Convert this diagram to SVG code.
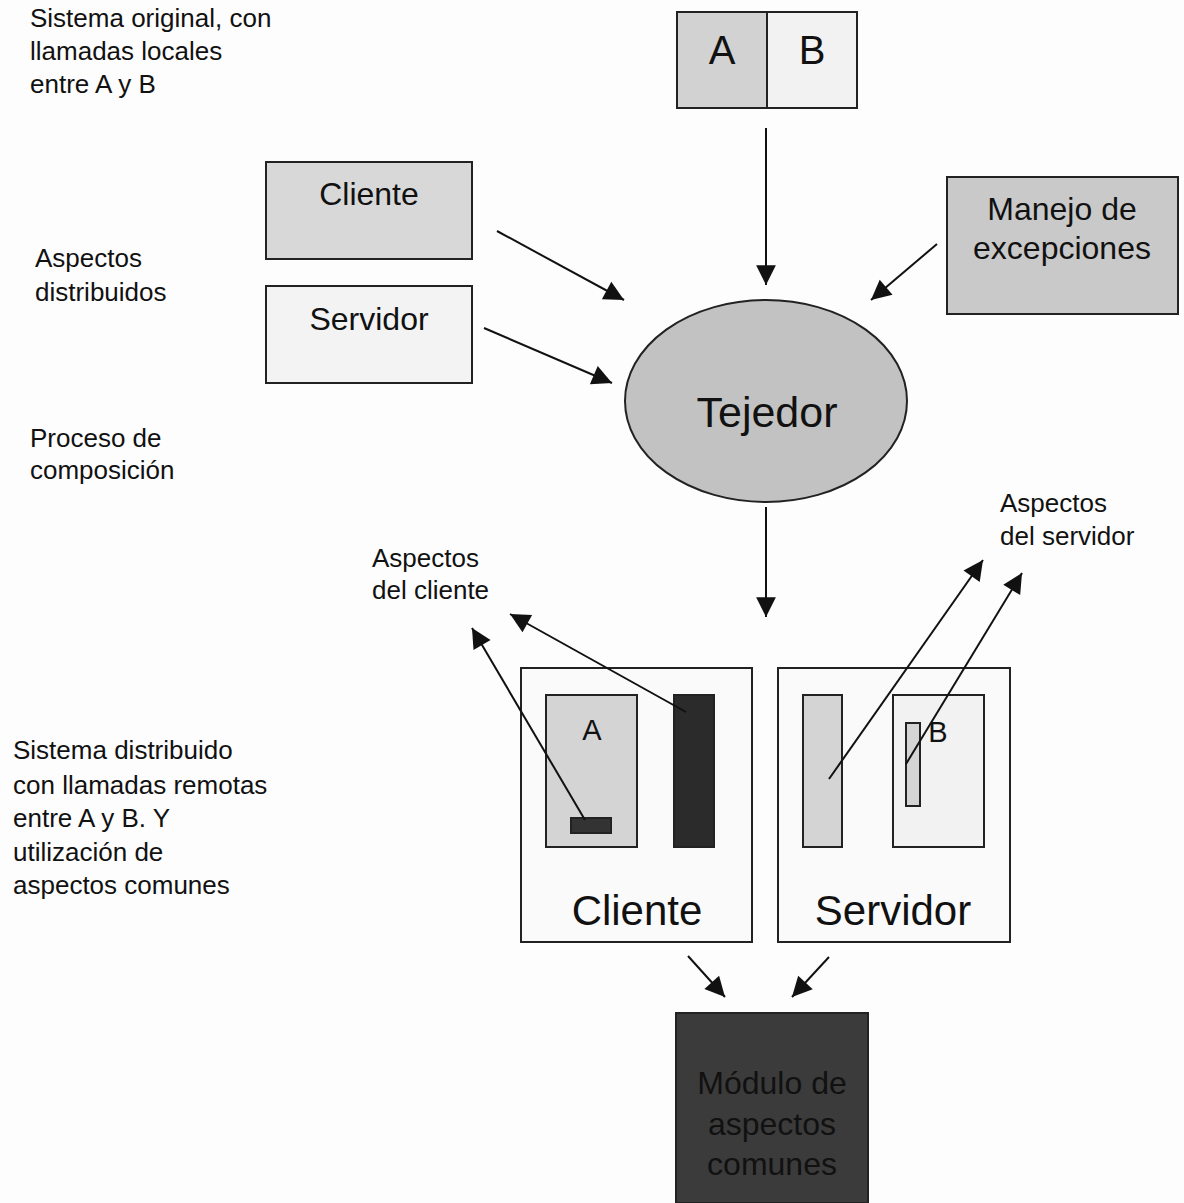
<svg xmlns="http://www.w3.org/2000/svg" width="1184" height="1203" viewBox="0 0 1184 1203">
  <style>
    .box { stroke: #222; stroke-width: 2; }
    .lbl { font-family: "Liberation Sans", Arial, sans-serif; font-size: 26px; fill: #111; }
    .big { font-family: "Liberation Sans", Arial, sans-serif; fill: #111; text-anchor: middle; }
    .conn { stroke: #111; stroke-width: 2; fill: none; marker-end: url(#arrow); }
  </style>
  <defs>
    <marker id="arrow" viewBox="0 0 10 10" refX="10" refY="5" markerWidth="10" markerHeight="9" markerUnits="userSpaceOnUse" orient="auto" style="overflow:visible">
      <path d="M0,0 L10,5 L0,10 z" fill="#111" transform="scale(2.2)" transform-origin="10 5"/>
    </marker>
  </defs>
  <rect width="1184" height="1203" fill="#fdfdfd"/>

  <!-- side labels -->
  <g id="labels">
    <text class="lbl" x="30" y="27">Sistema original, con</text>
    <text class="lbl" x="30" y="60">llamadas locales</text>
    <text class="lbl" x="30" y="93">entre A y B</text>
    <text class="lbl" x="35" y="267">Aspectos</text>
    <text class="lbl" x="35" y="301">distribuidos</text>
    <text class="lbl" x="30" y="447">Proceso de</text>
    <text class="lbl" x="30" y="479">composición</text>
    <text class="lbl" x="13" y="759">Sistema distribuido</text>
    <text class="lbl" x="13" y="794">con llamadas remotas</text>
    <text class="lbl" x="13" y="827">entre A y B. Y</text>
    <text class="lbl" x="13" y="861">utilización de</text>
    <text class="lbl" x="13" y="894">aspectos comunes</text>
    <text class="lbl" x="372" y="567">Aspectos</text>
    <text class="lbl" x="372" y="599">del cliente</text>
    <text class="lbl" x="1000" y="512">Aspectos</text>
    <text class="lbl" x="1000" y="545">del servidor</text>
  </g>

  <!-- original system A|B -->
  <g id="original">
    <rect class="box" x="677" y="12" width="90" height="96" fill="#d2d2d2"/>
    <rect class="box" x="767" y="12" width="90" height="96" fill="#f2f2f2"/>
    <text class="big" x="722" y="64" font-size="40">A</text>
    <text class="big" x="812" y="64" font-size="40">B</text>
  </g>

  <g id="aspecto-cliente">
    <rect class="box" x="266" y="162" width="206" height="97" fill="#d8d8d8"/>
    <text class="big" x="369" y="205" font-size="32">Cliente</text>
  </g>

  <g id="aspecto-servidor">
    <rect class="box" x="266" y="286" width="206" height="97" fill="#f3f3f3"/>
    <text class="big" x="369" y="330" font-size="32">Servidor</text>
  </g>

  <g id="manejo">
    <rect class="box" x="947" y="177" width="231" height="137" fill="#c9c9c9"/>
    <text class="big" x="1062" y="220" font-size="32">Manejo de</text>
    <text class="big" x="1062" y="259" font-size="32">excepciones</text>
  </g>

  <g id="tejedor">
    <ellipse class="box" cx="766" cy="401" rx="141" ry="101" fill="#c2c2c2"/>
    <text class="big" x="767" y="427" font-size="43">Tejedor</text>
  </g>

  <!-- distributed client -->
  <g id="cliente">
    <rect class="box" x="521" y="668" width="231" height="274" fill="#fafafa"/>
    <rect class="box" x="546" y="695" width="91" height="152" fill="#d4d4d4"/>
    <text class="big" x="592" y="740" font-size="29">A</text>
    <rect class="box" x="571" y="818" width="40" height="15" fill="#333"/>
    <rect class="box" x="674" y="695" width="40" height="152" fill="#2b2b2b"/>
    <text class="big" x="637" y="925" font-size="42">Cliente</text>
  </g>

  <!-- distributed server -->
  <g id="servidor">
    <rect class="box" x="778" y="668" width="232" height="274" fill="#fafafa"/>
    <rect class="box" x="803" y="695" width="39" height="152" fill="#d4d4d4"/>
    <rect class="box" x="893" y="695" width="91" height="152" fill="#f2f2f2"/>
    <text class="big" x="938" y="742" font-size="29">B</text>
    <rect class="box" x="906" y="723" width="14" height="83" fill="#d4d4d4"/>
    <text class="big" x="893" y="925" font-size="42">Servidor</text>
  </g>

  <g id="modulo">
    <rect class="box" x="676" y="1013" width="192" height="190" fill="#3b3b3b"/>
    <text class="big" x="772" y="1094" font-size="32" fill="#161616">Módulo de</text>
    <text class="big" x="772" y="1135" font-size="32" fill="#161616">aspectos</text>
    <text class="big" x="772" y="1175" font-size="32" fill="#161616">comunes</text>
  </g>

  <!-- connectors -->
  <g id="connectors">
    <line class="conn" x1="766" y1="128" x2="766" y2="285"/>
    <line class="conn" x1="497" y1="231" x2="624" y2="300"/>
    <line class="conn" x1="484" y1="328" x2="612" y2="383"/>
    <line class="conn" x1="937" y1="244" x2="871" y2="300"/>
    <line class="conn" x1="766" y1="507" x2="766" y2="617"/>
    <line class="conn" x1="585" y1="820" x2="472" y2="628"/>
    <line class="conn" x1="686" y1="712" x2="510" y2="614"/>
    <line class="conn" x1="829" y1="779" x2="983" y2="560"/>
    <line class="conn" x1="906" y1="764" x2="1022" y2="573"/>
    <line class="conn" x1="688" y1="956" x2="725" y2="997"/>
    <line class="conn" x1="829" y1="957" x2="792" y2="997"/>
  </g>
</svg>
